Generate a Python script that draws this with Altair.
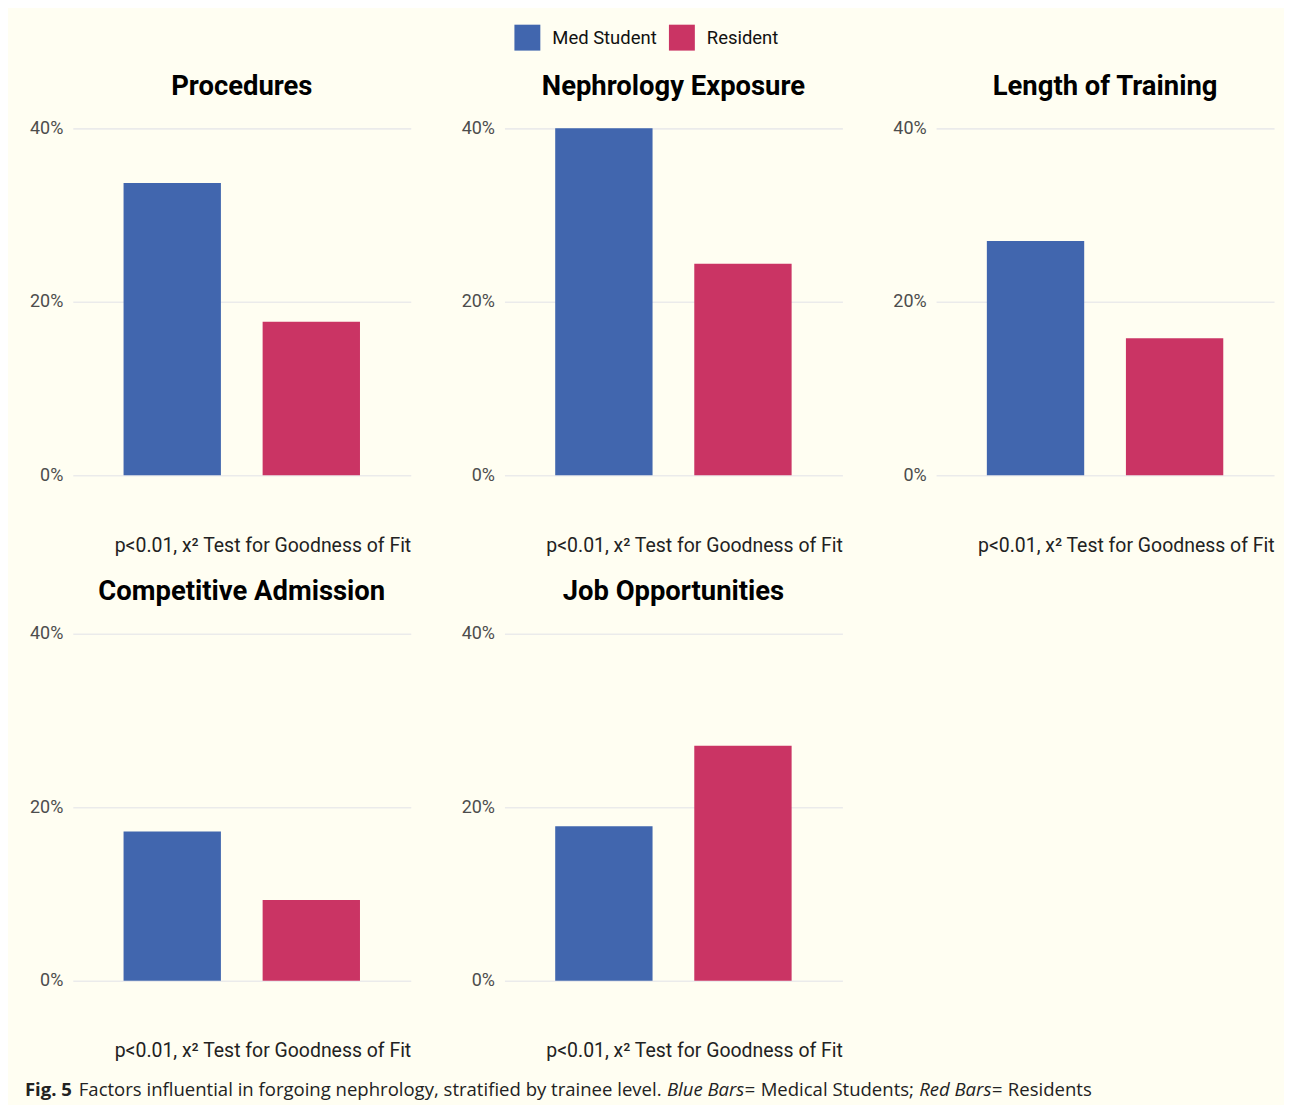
import altair as alt
import pandas as pd

factors = ["Procedures", "Nephrology Exposure", "Length of Training",
           "Competitive Admission", "Job Opportunities"]
levels = ["Med Student", "Resident"]
med_student = [0.337, 0.400, 0.270, 0.172, 0.178]
resident = [0.177, 0.244, 0.158, 0.093, 0.271]
y_ticks = [0.0, 0.2, 0.4]
note = "p<0.01, x\u00b2 Test for Goodness of Fit"
caption_parts = ["Fig. 5",
                 "Factors influential in forgoing nephrology, stratified by trainee level.",
                 "Blue Bars=", "Medical Students;", "Red Bars=", "Residents"]
caption_weights = ["bold", "normal", "normal", "normal", "normal", "normal"]
caption_styles = ["normal", "normal", "italic", "normal", "italic", "normal"]

rows = []
for f, m, r in zip(factors, med_student, resident):
    rows.append({"factor": f, "level": levels[0], "pct": m})
    rows.append({"factor": f, "level": levels[1], "pct": r})
df = pd.DataFrame(rows)

BG = "#FFFEF2"
color_scale = alt.Scale(domain=levels, range=["#4166AE", "#CA3464"])


def panel(f):
    c = alt.Chart(df[df.factor == f]).mark_bar().encode(
        x=alt.X("level:N", sort=levels,
                scale=alt.Scale(paddingInner=0.3, paddingOuter=0.365),
                axis=alt.Axis(title=note, labels=False, ticks=False, domain=False,
                              grid=False, titleAnchor="end", titleAlign="right",
                              titleFont="Roboto", titleFontSize=19.5,
                              titleFontWeight="normal", titleColor="#222222",
                              titlePadding=61)),
        y=alt.Y("pct:Q", scale=alt.Scale(domain=[0, 0.4], nice=False),
                axis=alt.Axis(title=None, values=y_ticks, format=".0%",
                              labelFont="Roboto", labelFontSize=18,
                              labelColor="#4D4D4D", labelPadding=10,
                              ticks=False, domain=False, grid=True,
                              gridColor="#EBEBEB", gridWidth=1.6)),
        color=alt.Color("level:N", scale=color_scale, sort=levels,
                        legend=alt.Legend(title=None, orient="none", direction="horizontal",
                                          legendX=443, legendY=-104,
                                          symbolType="square", symbolSize=676,
                                          symbolStrokeWidth=0, symbolOpacity=1,
                                          labelFont="Roboto", labelFontSize=18.5,
                                          labelColor="#111111", labelOffset=12,
                                          columnPadding=12)),
    ).properties(
        width=339, height=348,
        title=alt.TitleParams(text=f, font="Roboto", fontSize=27.5, fontWeight="bold",
                              color="#000000", anchor="middle", offset=19),
    )
    return c


row1 = alt.hconcat(*[panel(f) for f in factors[:3]], spacing=50)
row2 = alt.hconcat(*[panel(f) for f in factors[3:]], spacing=50)
grid = alt.vconcat(row1, row2, spacing=23)

pieces = []
for txt, w, s in zip(caption_parts, caption_weights, caption_styles):
    pieces.append(
        alt.Chart(pd.DataFrame({"t": [""]})).mark_text().encode(text="t:N").properties(
            width=1, height=1,
            title=alt.TitleParams(text=txt, font="Open Sans", fontSize=18.6,
                                  fontWeight=w, fontStyle=s, color="#222222",
                                  anchor="start", offset=0, dx=-48),
        )
    )
caption_row = alt.hconcat(*pieces, spacing=5)

chart = alt.vconcat(grid, caption_row, spacing=20).properties(
    background=BG,
    padding={"left": 17, "top": 15, "right": 10, "bottom": 5},
).configure_view(stroke=None)

chart.save("out.html", embed_options={"renderer": "svg", "actions": False})
